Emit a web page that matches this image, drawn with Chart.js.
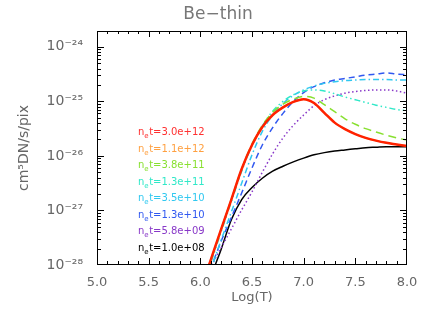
<!DOCTYPE html>
<html>
<head>
<meta charset="utf-8">
<script src="https://cdn.jsdelivr.net/npm/chart.js@4.4.1/dist/chart.umd.min.js"></script>
<style>
  html, body { margin: 0; padding: 0; background: #fff; }
  #wrap { width: 436px; height: 327px; }
</style>
</head>
<body>
<div id="wrap"><canvas id="canvas-1"></canvas></div>
<script>
// log(T) grid the curves were read on
const logT = [6.0, 6.1, 6.2, 6.3, 6.4, 6.5, 6.6, 6.7, 6.8, 6.9, 7.0, 7.1, 7.2, 7.3, 7.4, 7.5, 7.6, 7.7, 7.8, 7.9, 8.0]

// log10 of the response, one list per n_e t (orange sits under the red line)
const red3e12    = [-28.47, -27.91, -27.35, -26.8, -26.24, -25.8, -25.47, -25.25, -25.11, -25.01, -24.96, -25.03, -25.21, -25.39, -25.51, -25.6, -25.67, -25.72, -25.76, -25.79, -25.82]
const orange1e12 = [-28.47, -27.91, -27.35, -26.8, -26.24, -25.8, -25.47, -25.25, -25.11, -25.01, -24.96, -25.03, -25.21, -25.39, -25.51, -25.6, -25.67, -25.72, -25.76, -25.79, -25.82]
const green4e11  = [-28.5, -27.93, -27.36, -26.8, -26.24, -25.78, -25.44, -25.2, -25.05, -24.96, -24.91, -24.94, -25.06, -25.19, -25.32, -25.42, -25.5, -25.56, -25.62, -25.67, -25.71]
const turq1e11   = [-28.55, -27.97, -27.4, -26.84, -26.28, -25.81, -25.45, -25.18, -25.0, -24.88, -24.81, -24.79, -24.81, -24.86, -24.92, -24.97, -25.02, -25.07, -25.11, -25.15, -25.17]
const sky3e10    = [-28.65, -28.1, -27.55, -27.03, -26.5, -25.98, -25.55, -25.25, -25.04, -24.89, -24.79, -24.72, -24.67, -24.64, -24.62, -24.61, -24.6, -24.6, -24.6, -24.61, -24.61]
const blue1e10   = [-28.6, -28.07, -27.57, -27.13, -26.68, -26.22, -25.8, -25.48, -25.22, -25.0, -24.84, -24.73, -24.66, -24.61, -24.58, -24.55, -24.52, -24.5, -24.48, -24.5, -24.51]
const purp6e09   = [-28.4, -28.04, -27.69, -27.34, -26.99, -26.66, -26.3, -25.96, -25.67, -25.44, -25.25, -25.08, -24.97, -24.9, -24.85, -24.82, -24.8, -24.79, -24.79, -24.81, -24.85]
const black1e08  = [-29.05, -28.25, -27.72, -27.17, -26.8, -26.58, -26.41, -26.28, -26.19, -26.11, -26.04, -25.98, -25.94, -25.91, -25.89, -25.87, -25.85, -25.84, -25.83, -25.83, -25.83]

const names = ['3.0e+12', '1.1e+12', '3.8e+11', '1.3e+11', '3.5e+10', '1.3e+10', '5.8e+09', '1.0e+08']
const xTicks = [5.0, 5.5, 6.0, 6.5, 7.0, 7.5, 8.0]
const yDecades = [-28, -27, -26, -25, -24]

const series = [red3e12, orange1e12, green4e11, turq1e11, sky3e10, blue1e10, purp6e09, black1e08]
const colors = ['#ff2200', '#ffa040', '#88e030', '#30e8c8', '#30c8f0', '#3058f0', '#8838c8', '#000000']
const widths = [2.5, 1.5, 1.5, 1.5, 1.5, 1.5, 1.5, 1.5]
const dashes = [[], [], [8, 5], [6, 3, 1.5, 3, 1.5, 3], [6, 3, 1.5, 3], [6, 4], [1.5, 2.5], []]

const sup = {'-': '⁻', '0': '⁰', '1': '¹', '2': '²', '3': '³', '4': '⁴', '5': '⁵', '6': '⁶', '7': '⁷', '8': '⁸', '9': '⁹'}
function decadeLabel(e) {
  return '10' + String(e).split('').map(c => sup[c]).join('')
}

const datasets = series.map((s, i) => ({
  label: names[i],
  data: s.map((v, j) => ({x: logT[j], y: Math.pow(10, v)})),
  borderColor: colors[i],
  borderWidth: widths[i],
  borderDash: dashes[i],
  pointRadius: 0,
  cubicInterpolationMode: 'monotone',
  fill: false,
  order: i == 0 ? 0 : 1
}))
// red is painted last, on top of orange
datasets[1].order = 2

// IDL-looking frame: box, inward ticks, title and in-plot key
const idlFrame = {
  id: 'idlFrame',
  afterDraw(chart) {
    const c = chart.ctx, a = chart.chartArea
    const xs = chart.scales.x, ys = chart.scales.y
    const L = Math.round(a.left), R = Math.round(a.right) - 1
    const T = Math.round(a.top), B = Math.round(a.bottom) - 1
    c.save()
    c.fillStyle = '#000'
    c.fillRect(L, T, R - L + 1, 1)
    c.fillRect(L, B, R - L + 1, 1)
    c.fillRect(L, T, 1, B - T + 1)
    c.fillRect(R, T, 1, B - T + 1)
    for (let k = 0; k <= 30; k++) {
      const px = Math.round(xs.getPixelForValue(5 + k * 0.1))
      const len = k % 5 == 0 ? 6 : 3
      c.fillRect(Math.min(px, R), B - len, 1, len)
      c.fillRect(Math.min(px, R), T, 1, len)
    }
    for (let e = -28; e <= -24; e++) {
      for (let m = 1; m <= 9; m++) {
        const val = m * Math.pow(10, e)
        if (val > ys.max) continue
        const py = Math.min(Math.round(ys.getPixelForValue(val)), B)
        const len = m == 1 ? 7 : 4
        c.fillRect(L, py, len, 1)
        c.fillRect(R - len + 1, py, len, 1)
      }
    }

    c.fillStyle = '#777'
    c.font = '17px "DejaVu Sans"'
    c.textAlign = 'center'
    c.textBaseline = 'middle'
    c.fillText('Be\u2212thin', (a.left + a.right) / 2 - 34, a.top - 16)

    c.textAlign = 'left'
    c.textBaseline = 'alphabetic'
    names.forEach((n, i) => {
      const x0 = a.left + 41
      const y0 = a.top + 104 + i * 16.5
      c.fillStyle = colors[i] == '#ff2200' ? '#ff3030' : colors[i]
      c.font = '10px "DejaVu Sans"'
      c.fillText('n', x0, y0)
      const w1 = c.measureText('n').width
      c.font = '7px "DejaVu Sans"'
      c.fillText('e', x0 + w1, y0 + 3)
      const w2 = c.measureText('e').width
      c.font = '10px "DejaVu Sans"'
      c.fillText('t=' + n, x0 + w1 + w2 + 0.5, y0)
    })
    c.restore()
  }
}

new Chart(document.getElementById('canvas-1'), {
  type: 'line',
  data: { datasets: datasets },
  options: {
    responsive: true,
    maintainAspectRatio: false,
    animation: false,
    layout: { padding: { top: 31, right: 29, left: 0, bottom: 0 } },
    plugins: {
      legend: { display: false },
      tooltip: { enabled: false }
    },
    scales: {
      x: {
        type: 'linear',
        min: 5,
        max: 8,
        afterBuildTicks: s => { s.ticks = xTicks.map(v => ({value: v})) },
        afterFit: s => { s.height = 62 },
        grid: { display: false, drawTicks: false },
        border: { display: false },
        ticks: {
          padding: 10,
          color: '#666',
          font: { family: 'DejaVu Sans', size: 13 },
          callback: v => v.toFixed(1)
        },
        title: {
          display: true,
          text: 'Log(T)',
          color: '#666',
          font: { family: 'DejaVu Sans', size: 13 },
          padding: { top: 0, bottom: 22 }
        }
      },
      y: {
        type: 'logarithmic',
        min: 1e-28,
        max: 1.95e-24,
        afterBuildTicks: s => { s.ticks = yDecades.map(e => ({value: Math.pow(10, e)})) },
        afterFit: s => { s.width = 97 },
        grid: { display: false, drawTicks: false },
        border: { display: false },
        ticks: {
          padding: 14,
          color: '#666',
          font: { family: 'DejaVu Sans', size: 14 },
          callback: v => decadeLabel(Math.round(Math.log10(v)))
        },
        title: {
          display: true,
          text: 'cm⁵DN/s/pix',
          color: '#666',
          font: { family: 'DejaVu Sans', size: 14 },
          padding: { bottom: 0, top: 16 }
        }
      }
    }
  },
  plugins: [idlFrame]
});
</script>
</body>
</html>
